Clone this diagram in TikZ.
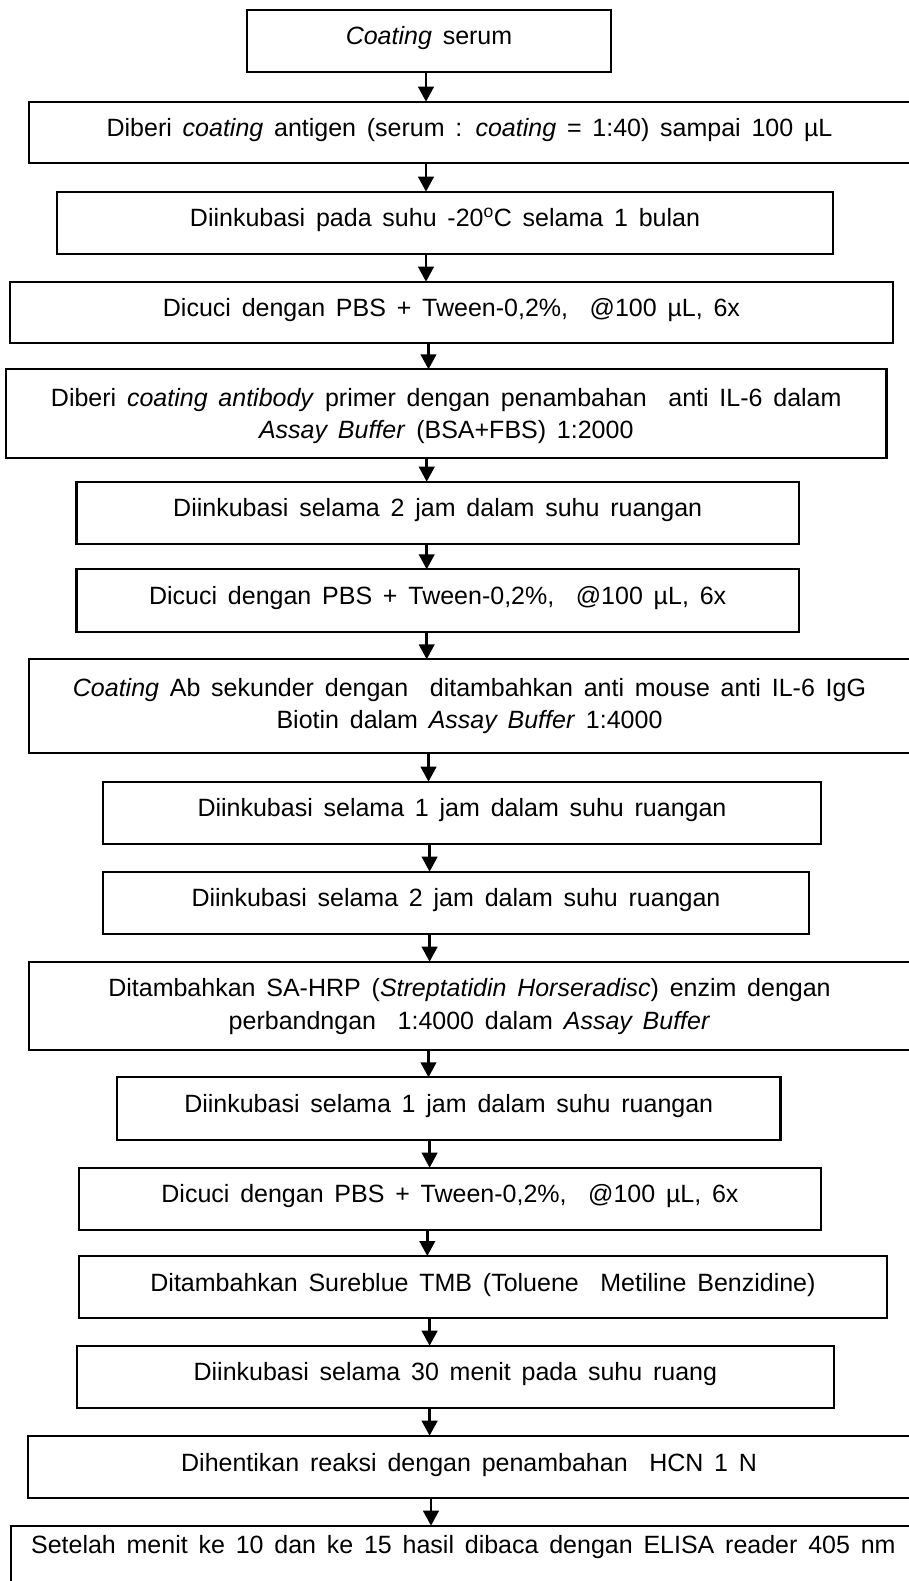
\documentclass[tikz,border=0pt]{standalone}
\usepackage{fontspec}
\setmainfont{Liberation Sans}
\usetikzlibrary{arrows.meta}
\newcommand\flowtxtfont{\fontsize{25pt}{30pt}\selectfont\spaceskip=10.8pt\relax}
\tikzset{
  box/.style={draw, line width=2.2pt, rectangle, inner sep=0pt, outer sep=0pt, anchor=north west},
  txt/.style={anchor=base, inner sep=0pt, outer sep=0pt, font=\flowtxtfont},
  flow/.style={line width=2.6pt, -{Triangle[width=15.5pt,length=15pt]}}
}
\begin{document}
\begin{tikzpicture}[x=1pt,y=-1pt]
\useasboundingbox (0,0) rectangle (908,1581);
% boxes
\node[box, minimum width=364pt,   minimum height=61.7pt] (b1)  at (247,10) {};
\node[box, minimum width=881pt,   minimum height=61.6pt] (b2)  at (29,101.7) {};
\node[box, minimum width=776pt,   minimum height=62.3pt] (b3)  at (57,191.7) {};
\node[box, minimum width=883pt,   minimum height=61.6pt] (b4)  at (10,281.7) {};
\node[box, minimum width=880.5pt, minimum height=89pt]   (b5)  at (6,369.3) {};
\node[box, minimum width=722.6pt, minimum height=62.3pt] (b6)  at (76.4,481.7) {};
\node[box, minimum width=722.6pt, minimum height=62.4pt] (b7)  at (76.4,569.3) {};
\node[box, minimum width=881pt,   minimum height=94pt]   (b8)  at (29,659.3) {};
\node[box, minimum width=718pt,   minimum height=62.3pt] (b9)  at (103,781.7) {};
\node[box, minimum width=706pt,   minimum height=62.3pt] (b10) at (103,871.7) {};
\node[box, minimum width=881pt,   minimum height=88.3pt] (b11) at (29,961.7) {};
\node[box, minimum width=663.5pt, minimum height=62.7pt] (b12) at (117,1077.3) {};
\node[box, minimum width=742pt,   minimum height=62.3pt] (b13) at (79,1167.7) {};
\node[box, minimum width=808pt,   minimum height=61.7pt] (b14) at (79,1256) {};
\node[box, minimum width=756.7pt, minimum height=62pt]   (b15) at (77,1345.7) {};
\node[box, minimum width=881.7pt, minimum height=62pt]   (b16) at (28.3,1435.7) {};
\node[box, minimum width=905.3pt, minimum height=64pt]   (b17) at (10.7,1525.7) {};
% texts
\node[txt] (t1)  at ([yshift=-35pt]b1.north) {\textit{Coating} serum};
\node[txt] (t2)  at ([yshift=-35pt]b2.north) {Diberi \textit{coating} antigen (serum : \textit{coating} = 1:40) sampai 100 µL};
\node[txt] (t3)  at ([yshift=-35pt]b3.north) {Diinkubasi pada suhu -20\textsuperscript{o}C selama 1 bulan};
\node[txt] (t4)  at ([yshift=-35pt]b4.north) {Dicuci dengan PBS + Tween-0,2\%, \ @100 µL, 6x};
\node[txt] (t5a) at ([yshift=-37pt]b5.north) {Diberi \textit{coating antibody} primer dengan penambahan \ anti IL-6 dalam};
\node[txt] (t5b) at ([yshift=-69pt]b5.north) {\textit{Assay Buffer} (BSA+FBS) 1:2000};
\node[txt] (t6)  at ([yshift=-35pt]b6.north) {Diinkubasi selama 2 jam dalam suhu ruangan};
\node[txt] (t7)  at ([yshift=-35pt]b7.north) {Dicuci dengan PBS + Tween-0,2\%, \ @100 µL, 6x};
\node[txt] (t8a) at ([yshift=-37pt]b8.north) {\textit{Coating} Ab sekunder dengan \ ditambahkan anti mouse anti IL-6 IgG};
\node[txt] (t8b) at ([yshift=-69pt]b8.north) {Biotin dalam \textit{Assay Buffer} 1:4000};
\node[txt] (t9)  at ([yshift=-35pt]b9.north) {Diinkubasi selama 1 jam dalam suhu ruangan};
\node[txt] (t10) at ([yshift=-35pt]b10.north) {Diinkubasi selama 2 jam dalam suhu ruangan};
\node[txt] (t11a) at ([yshift=-35pt]b11.north) {Ditambahkan SA-HRP (\textit{Streptatidin Horseradisc}) enzim dengan};
\node[txt] (t11b) at ([yshift=-68pt]b11.north) {perbandngan \ 1:4000 dalam \textit{Assay Buffer}};
\node[txt] (t12) at ([yshift=-35pt]b12.north) {Diinkubasi selama 1 jam dalam suhu ruangan};
\node[txt] (t13) at ([yshift=-35pt]b13.north) {Dicuci dengan PBS + Tween-0,2\%, \ @100 µL, 6x};
\node[txt] (t14) at ([yshift=-35pt]b14.north) {Ditambahkan Sureblue TMB (Toluene \ Metiline Benzidine)};
\node[txt] (t15) at ([yshift=-35pt]b15.north) {Diinkubasi selama 30 menit pada suhu ruang};
\node[txt] (t16) at ([yshift=-36pt]b16.north) {Dihentikan reaksi dengan penambahan \ HCN 1 N};
\node[txt] (t17) at ([yshift=-27.3pt]b17.north) {Setelah menit ke 10 dan ke 15 hasil dibaca dengan ELISA reader 405 nm};
% arrow x positions
\coordinate (ax1) at (426,0);
\coordinate (ax2) at (426,0);
\coordinate (ax3) at (426,0);
\coordinate (ax4) at (428.5,0);
\coordinate (ax5) at (426.7,0);
\coordinate (ax6) at (426.7,0);
\coordinate (ax7) at (426.7,0);
\coordinate (ax8) at (428.5,0);
\coordinate (ax9) at (429.6,0);
\coordinate (ax10) at (429.6,0);
\coordinate (ax11) at (428.5,0);
\coordinate (ax12) at (429.6,0);
\coordinate (ax13) at (427.3,0);
\coordinate (ax14) at (429.6,0);
\coordinate (ax15) at (429.6,0);
\coordinate (ax16) at (431,0);
% arrows
\draw[flow] (b1.south -| ax1) -- (b2.north -| ax1);
\draw[flow] (b2.south -| ax2) -- (b3.north -| ax2);
\draw[flow] (b3.south -| ax3) -- (b4.north -| ax3);
\draw[flow] (b4.south -| ax4) -- (b5.north -| ax4);
\draw[flow] (b5.south -| ax5) -- (b6.north -| ax5);
\draw[flow] (b6.south -| ax6) -- (b7.north -| ax6);
\draw[flow] (b7.south -| ax7) -- (b8.north -| ax7);
\draw[flow] (b8.south -| ax8) -- (b9.north -| ax8);
\draw[flow] (b9.south -| ax9) -- (b10.north -| ax9);
\draw[flow] (b10.south -| ax10) -- (b11.north -| ax10);
\draw[flow] (b11.south -| ax11) -- (b12.north -| ax11);
\draw[flow] (b12.south -| ax12) -- (b13.north -| ax12);
\draw[flow] (b13.south -| ax13) -- (b14.north -| ax13);
\draw[flow] (b14.south -| ax14) -- (b15.north -| ax14);
\draw[flow] (b15.south -| ax15) -- (b16.north -| ax15);
\draw[flow] (b16.south -| ax16) -- (b17.north -| ax16);
\end{tikzpicture}
\end{document}
